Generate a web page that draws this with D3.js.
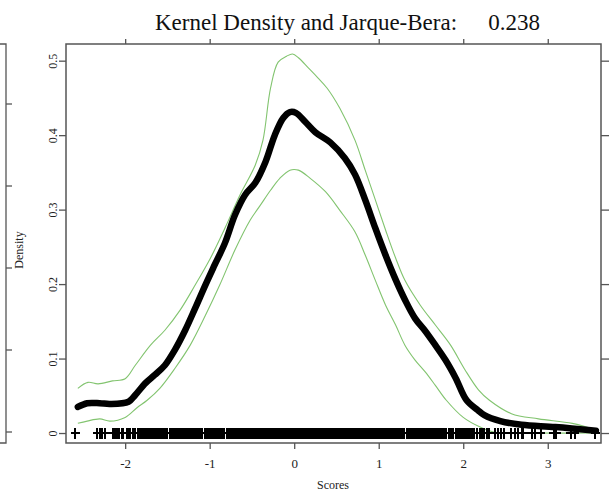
<!DOCTYPE html>
<html><head><meta charset="utf-8">
<script src="https://cdn.jsdelivr.net/npm/d3@7"></script>
<style>
html,body{margin:0;padding:0;background:#fff;}
svg{display:block;font-family:"Liberation Serif","Times New Roman",serif;}
</style></head>
<body>
<svg id="chart" width="616" height="494"></svg>
<script>
// ---- data ----
const titleText = "Kernel Density and Jarque-Bera:";
const jbValue = "0.238";
const xLabel = "Scores";
const yLabel = "Density";
const xTicks = [-2, -1, 0, 1, 2, 3];
const yTicks = [0, 0.1, 0.2, 0.3, 0.4, 0.5];
const yTickLabels = ["0", "0.1", "0.2", "0.3", "0.4", "0.5"];
const leftPanelTicks = [0, 0.1, 0.2, 0.3, 0.4];

const densX = [-2.56,-2.45,-2.30,-2.18,-1.96,-1.88,-1.76,-1.65,-1.53,-1.41,-1.29,-1.17,-1.05,-0.94,-0.82,-0.70,-0.58,-0.46,-0.34,-0.23,-0.13,-0.05,0.02,0.13,0.25,0.43,0.60,0.72,0.84,0.96,1.08,1.20,1.31,1.43,1.55,1.67,1.79,1.91,2.04,2.17,2.25,2.44,2.69,3.09,3.57];
const densY = [0.035,0.040,0.040,0.039,0.042,0.051,0.067,0.078,0.091,0.112,0.138,0.168,0.199,0.226,0.255,0.293,0.320,0.336,0.364,0.400,0.423,0.431,0.430,0.418,0.404,0.390,0.369,0.347,0.313,0.275,0.239,0.206,0.179,0.154,0.137,0.118,0.098,0.074,0.044,0.031,0.024,0.016,0.011,0.008,0.003];

const upperX = [-2.56,-2.44,-2.32,-2.15,-2.00,-1.88,-1.70,-1.53,-1.35,-1.17,-0.99,-0.82,-0.64,-0.46,-0.37,-0.28,-0.19,-0.09,-0.02,0.05,0.17,0.28,0.39,0.54,0.72,0.84,0.96,1.08,1.20,1.31,1.49,1.67,1.85,2.02,2.18,2.31,2.57,2.89,3.29,3.57];
const upperY = [0.060,0.068,0.066,0.070,0.073,0.091,0.118,0.138,0.165,0.199,0.235,0.275,0.320,0.360,0.393,0.463,0.498,0.506,0.509,0.504,0.490,0.477,0.463,0.436,0.393,0.353,0.313,0.273,0.235,0.205,0.172,0.145,0.118,0.085,0.058,0.044,0.026,0.019,0.013,0.004];

const lowerX = [-2.56,-2.45,-2.30,-2.18,-2.00,-1.86,-1.74,-1.59,-1.41,-1.23,-1.05,-0.88,-0.70,-0.52,-0.40,-0.28,-0.17,-0.05,0.05,0.19,0.37,0.54,0.72,0.84,0.96,1.08,1.20,1.31,1.43,1.55,1.67,1.80,2.00,2.20,2.37,2.79,3.57];
const lowerY = [0.013,0.016,0.019,0.016,0.021,0.034,0.044,0.060,0.087,0.118,0.158,0.199,0.246,0.286,0.306,0.326,0.342,0.353,0.353,0.342,0.324,0.299,0.270,0.239,0.205,0.172,0.145,0.118,0.098,0.082,0.064,0.044,0.021,0.008,0.001,0,0];

// observed scores (rug of "+" marks at density 0)
const scores = [-2.59,-2.33,-2.30,-2.29,-2.27,-2.24,-2.14,-2.12,-2.10,-2.07,-2.04,-2.02,-1.98,-1.96,-1.94,-1.91,-1.88,-1.85,-1.82,-1.80,-1.78,
-1.76,-1.74,-1.72,-1.70,-1.68,-1.66,-1.64,-1.62,-1.60,-1.58,-1.56,-1.54,-1.52,-1.51,
-1.47,-1.45,-1.43,-1.41,-1.39,-1.37,-1.35,-1.33,-1.31,-1.29,-1.27,-1.25,-1.23,-1.21,-1.19,-1.17,-1.15,-1.13,-1.11,-1.09,
-1.06,-1.04,-1.02,-1.00,-0.98,-0.96,-0.94,-0.92,-0.90,-0.88,-0.86,-0.84,-0.83,
-0.80,-0.78,-0.76,-0.74,-0.72,-0.70,-0.68,-0.66,-0.64,-0.62,-0.60,-0.58,-0.56,-0.54,-0.52,-0.50,-0.48,-0.46,-0.44,-0.42,-0.40,-0.38,-0.36,-0.34,-0.32,-0.30,-0.28,-0.26,-0.24,-0.22,-0.20,-0.18,-0.16,-0.14,-0.12,-0.10,-0.08,-0.06,-0.04,-0.02,0.00,0.02,0.04,0.06,0.08,0.10,0.12,0.14,0.16,0.18,0.20,0.22,0.24,0.26,0.28,0.30,0.32,0.34,0.36,0.38,0.40,0.42,0.44,0.46,0.48,0.50,0.52,0.54,0.56,0.58,0.60,0.62,0.64,0.66,0.68,0.70,0.72,0.74,0.76,0.78,0.80,0.82,0.84,0.86,0.88,0.90,0.92,0.94,0.96,0.98,1.00,1.02,1.04,1.06,1.08,1.10,1.12,1.14,1.16,1.17,
1.19,1.21,1.23,1.25,1.27,1.29,1.30,
1.33,1.35,1.37,1.39,1.41,1.43,1.45,1.47,1.49,1.51,1.52,
1.55,1.57,1.59,1.61,1.63,1.65,1.67,1.69,1.71,1.73,1.75,1.77,1.79,1.80,
1.83,1.86,1.88,1.91,1.94,1.96,1.98,2.01,2.03,2.06,2.08,2.10,2.13,2.16,2.20,2.22,2.25,2.28,2.31,2.37,2.41,2.45,2.48,2.57,2.61,2.65,2.69,2.71,2.81,2.85,2.92,3.07,3.10,3.27,3.32,3.56];

// ---- layout ----
const svg = d3.select("#chart");
const L = 66, R = 601, T = 44, B = 443;
const x = d3.scaleLinear().domain([-2.70, 3.63]).range([L, R]);
const y = d3.scaleLinear().domain([-0.0134, 0.5224]).range([B, T]);
const axisColor = "#555";
const textColor = "#222";

// partial neighbouring panel at the far left
const yLeft = d3.scaleLinear().domain([0, 0.4]).range([432, 104]);
svg.append("path").attr("d", `M0,${T}H6V${B}H0`).attr("fill","none").attr("stroke",axisColor).attr("stroke-width",1.3);
svg.append("g").selectAll("line").data(leftPanelTicks).join("line")
  .attr("x1",6).attr("x2",12).attr("y1",d=>yLeft(d)).attr("y2",d=>yLeft(d))
  .attr("stroke",axisColor).attr("stroke-width",1.3);

// curves
const mk = (xs, ys) => xs.map((v,i)=>[v, ys[i]]);
const line = d3.line().x(d=>x(d[0])).y(d=>y(d[1])).curve(d3.curveCatmullRom.alpha(0.5));
svg.append("path").datum(mk(upperX, upperY)).attr("d", line)
  .attr("fill","none").attr("stroke","#82c46f").attr("stroke-width",1.1);
svg.append("path").datum(mk(lowerX, lowerY)).attr("d", line)
  .attr("fill","none").attr("stroke","#82c46f").attr("stroke-width",1.1);
svg.append("path").datum(mk(densX, densY)).attr("d", line)
  .attr("fill","none").attr("stroke","#000").attr("stroke-width",6.5)
  .attr("stroke-linejoin","round").attr("stroke-linecap","round");

// rug of plus marks
svg.append("g").attr("shape-rendering","crispEdges")
  .selectAll("path").data(scores).join("path")
  .attr("transform", d=>`translate(${x(d)},${y(0)})`)
  .attr("d","M-4.5,0H4.5M0,-5.5V5.5")
  .attr("stroke","#000").attr("stroke-width",2).attr("fill","none");

// axes
const gBottom = svg.append("g").attr("transform",`translate(0,${B})`)
  .call(d3.axisBottom(x).tickValues(xTicks).tickSize(6).tickSizeOuter(0).tickPadding(10).tickFormat(d=>String(d)));
const gTop = svg.append("g").attr("transform",`translate(0,${T})`)
  .call(d3.axisTop(x).tickValues(xTicks).tickSize(5).tickSizeOuter(0).tickFormat(""));
const gLeft = svg.append("g").attr("transform",`translate(${L},0)`)
  .call(d3.axisLeft(y).tickValues(yTicks).tickSize(7).tickSizeOuter(0).tickFormat((d,i)=>yTickLabels[i]));
const gRight = svg.append("g").attr("transform",`translate(${R},0)`)
  .call(d3.axisRight(y).tickValues(yTicks).tickSize(8).tickSizeOuter(0).tickFormat(""));
[gBottom, gTop, gLeft, gRight].forEach(g=>{
  g.select(".domain").remove();
  g.selectAll(".tick line").attr("stroke",axisColor).attr("stroke-width",1.3);
  g.selectAll("text").attr("fill",textColor).style("font-family","'Liberation Serif',serif");
});
gBottom.selectAll("text").style("font-size","13px");
gLeft.selectAll("text").style("font-size","12px")
  .attr("text-anchor","middle").attr("dy","0")
  .attr("transform","rotate(-90)").attr("x",0).attr("y",-9);

// box
svg.append("rect").attr("x",L).attr("y",T).attr("width",R-L).attr("height",B-T)
  .attr("fill","none").attr("stroke",axisColor).attr("stroke-width",1.5);

// titles
svg.append("text").attr("x",155).attr("y",30).attr("fill","#111")
  .style("font-size","23px").text(titleText);
svg.append("text").attr("x",540).attr("y",30).attr("text-anchor","end").attr("fill","#111")
  .style("font-size","23px").text(jbValue);
svg.append("text").attr("x",333).attr("y",489).attr("text-anchor","middle").attr("fill",textColor)
  .style("font-size","12px").text(xLabel);
svg.append("text").attr("transform","translate(23,250) rotate(-90)").attr("text-anchor","middle")
  .attr("fill",textColor).style("font-size","12px").text(yLabel);
</script>
</body></html>
